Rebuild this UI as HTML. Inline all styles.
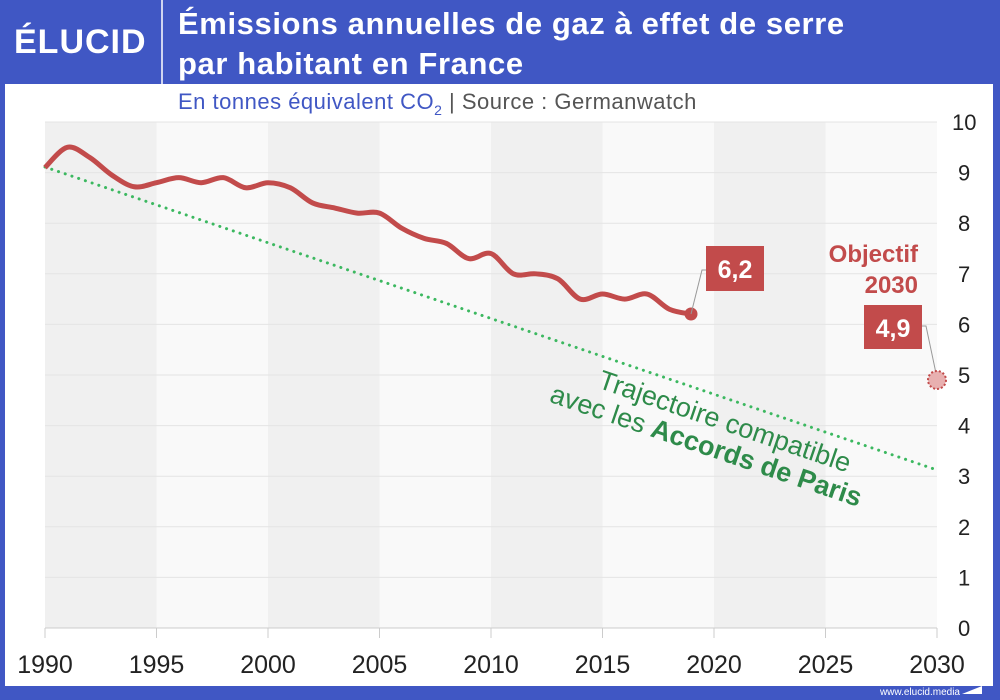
<!DOCTYPE html>
<html><head><meta charset="utf-8"><style>
body{margin:0;width:1000px;height:700px;background:#4057c4;overflow:hidden;font-family:"Liberation Sans",sans-serif}
</style></head><body>
<svg width="1000" height="700" xmlns="http://www.w3.org/2000/svg" style="position:absolute;left:0;top:0">
<rect x="0" y="0" width="1000" height="700" fill="#4057c4"/>
<rect x="5" y="84" width="988" height="602" fill="#fff"/>
<line x1="162" y1="0" x2="162" y2="84" stroke="#fff" stroke-width="1.5"/>
<text x="14" y="53" fill="#fff" font-size="34" font-weight="bold" letter-spacing="1">ÉLUCID</text>
<text x="178" y="34" fill="#fff" font-size="31" font-weight="bold" letter-spacing="0.6">Émissions annuelles de gaz à effet de serre</text>
<text x="178" y="74" fill="#fff" font-size="31" font-weight="bold" letter-spacing="0.6">par habitant en France</text>
<text x="178" y="109" fill="#4057c4" font-size="22" letter-spacing="0.5">En tonnes équivalent CO<tspan font-size="14" dy="6">2</tspan><tspan dy="-6" fill="#555">  |  Source : Germanwatch</tspan></text>
<g id="bands"></g>
<g id="grid" stroke="#e4e4e4" stroke-width="1"></g>
<line x1="45" y1="628" x2="937" y2="628" stroke="#ccc"/>
<g id="ticks" stroke="#ccc"></g>
<g id="ylab" font-size="22" fill="#222"></g>
<g id="xlab" font-size="25" fill="#222" text-anchor="middle"></g>
<line x1="45" y1="167" x2="937" y2="470" stroke="#3cb860" stroke-width="3" stroke-dasharray="0.1 7" stroke-linecap="round"/>
<path id="red" fill="none" stroke="#c24b4b" stroke-width="5" stroke-linejoin="round"/>
<circle cx="691" cy="314" r="6.5" fill="#c24b4b"/>
<polyline points="691,314 702,270 708,270" fill="none" stroke="#999" stroke-width="1"/>
<rect x="706" y="246" width="58" height="45" fill="#c24b4b"/>
<text x="735" y="278" fill="#fff" font-size="25" font-weight="bold" text-anchor="middle">6,2</text>
<text x="918" y="262" fill="#c24b4b" font-size="24" font-weight="bold" text-anchor="end">Objectif</text>
<text x="918" y="293" fill="#c24b4b" font-size="24" font-weight="bold" text-anchor="end">2030</text>
<rect x="864" y="305" width="58" height="44" fill="#c24b4b"/>
<text x="893" y="337" fill="#fff" font-size="25" font-weight="bold" text-anchor="middle">4,9</text>
<polyline points="922,326 926,326 937,378" fill="none" stroke="#999" stroke-width="1"/>
<circle cx="937" cy="380" r="9" fill="#e8b0b0" stroke="#c24b4b" stroke-width="2" stroke-dasharray="2 2"/>
<g transform="translate(722,430) rotate(18.8)" fill="#2e8b4a" font-size="27" text-anchor="middle">
<text x="0" y="0">Trajectoire compatible</text>
<text x="-10" y="29">avec les <tspan font-weight="bold">Accords de Paris</tspan></text>
</g>
<text x="960" y="695" fill="#fff" font-size="10" text-anchor="end">www.elucid.media</text>
<polygon points="962,694 982,686 982,694" fill="#fff"/>
</svg>
<script>
var ns="http://www.w3.org/2000/svg";
function X(y){return 45+(y-1990)*22.3}
function Y(v){return 628-v*50.6}
function el(p,t,a,txt){var e=document.createElementNS(ns,t);for(var k in a)e.setAttribute(k,a[k]);if(txt!==undefined)e.textContent=txt;document.getElementById(p).appendChild(e);}
for(var i=0;i<8;i++){el("bands","rect",{x:X(1990+5*i),y:122,width:111.5,height:506,fill:i%2?"#f9f9f9":"#f0f0f0"});}
for(var v=1;v<=10;v++){el("grid","line",{x1:45,x2:937,y1:Y(v),y2:Y(v)});}
for(v=0;v<=10;v++){el("ylab","text",{x:v==10?952:958,y:Y(v)+8},String(v));}
for(i=0;i<=8;i++){var yr=1990+5*i;el("ticks","line",{x1:X(yr),x2:X(yr),y1:628,y2:638});el("xlab","text",{x:X(yr),y:673},String(yr));}
var d=[9.1,9.5,9.3,8.95,8.72,8.8,8.9,8.8,8.9,8.7,8.8,8.7,8.4,8.3,8.2,8.2,7.9,7.7,7.6,7.3,7.4,7.0,7.0,6.9,6.5,6.6,6.5,6.6,6.3,6.2];
var P=d.map(function(v,i){return [X(1990+i),Y(v)]});
var s="M"+P[0][0]+","+P[0][1];
for(i=0;i<P.length-1;i++){var p0=P[i-1]||P[i],p1=P[i],p2=P[i+1],p3=P[i+2]||P[i+1];
s+=" C"+(p1[0]+(p2[0]-p0[0])/6)+","+(p1[1]+(p2[1]-p0[1])/6)+" "+(p2[0]-(p3[0]-p1[0])/6)+","+(p2[1]-(p3[1]-p1[1])/6)+" "+p2[0]+","+p2[1];}
document.getElementById("red").setAttribute("d",s);
</script>
</body></html>
